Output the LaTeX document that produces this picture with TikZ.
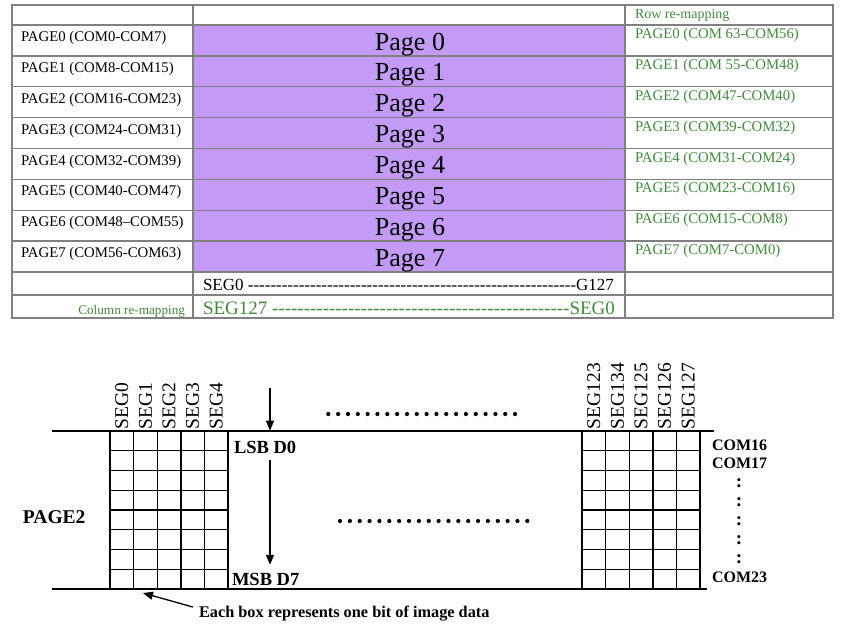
\documentclass[tikz,border=0pt]{standalone}
\usepackage{fontspec}
\setmainfont{Liberation Serif}
\usetikzlibrary{arrows.meta, positioning, calc}
\definecolor{pagefill}{RGB}{195,154,245}
\definecolor{mapgreen}{RGB}{62,140,58}
\definecolor{rulegray}{RGB}{128,128,128}
\newcommand\fsz[1]{\fontsize{#1}{#1}\selectfont}
\newcommand\hyph[1]{\foreach \k in {1,...,#1}{\mbox{-}}}
\tikzset{
    every node/.style={inner sep=0pt, outer sep=0pt},
    cell text/.style={anchor=base west, font=\fsz{14.8}},
    remap/.style={cell text, text=mapgreen},
    page text/.style={anchor=base, font=\fsz{26}},
    seg label/.style={rotate=90, anchor=west, font=\fsz{19.5}},
    bold label/.style={anchor=base west, font=\fsz{18.5}\bfseries},
    com label/.style={anchor=base west, font=\fsz{16}\bfseries},
    table line/.style={draw=rulegray, line width=1.4pt},
    grid line/.style={draw=black, line width=1.4pt}
}

\begin{document}
\begin{tikzpicture}[x=1pt, y=-1pt,
  >={Triangle[length=10pt, width=8pt]}]
  \useasboundingbox (0,0) rectangle (841,638);

  % page table
  \fill[pagefill] (193,25) rectangle (625,272);
  \foreach \y in {25,272,295}
    \draw[table line] (12,\y) -- (833,\y);
  \foreach \i in {1,...,7}
    \draw[table line] (12,25+30.875*\i) -- (833,25+30.875*\i);
  \foreach \x in {193,625}
    \draw[table line] (\x,5) -- (\x,318);
  \draw[table line] (12,5) rectangle (833,318);

  \node[remap] (rowmap) at (635,18.5) {\fsz{14}Row re-mapping};
  \foreach \i/\lt/\rt in {
      0/{PAGE0 (COM0-COM7)}/{PAGE0 (COM 63-COM56)},
      1/{PAGE1 (COM8-COM15)}/{PAGE1 (COM 55-COM48)},
      2/{PAGE2 (COM16-COM23)}/{PAGE2 (COM47-COM40)},
      3/{PAGE3 (COM24-COM31)}/{PAGE3 (COM39-COM32)},
      4/{PAGE4 (COM32-COM39)}/{PAGE4 (COM31-COM24)},
      5/{PAGE5 (COM40-COM47)}/{PAGE5 (COM23-COM16)},
      6/{PAGE6 (COM48–COM55)}/{PAGE6 (COM15-COM8)},
      7/{PAGE7 (COM56-COM63)}/{PAGE7 (COM7-COM0)}} {
    \node[cell text] (lp\i) at (21,25+30.875*\i+16.5) {\lt};
    \node[page text] (pg\i) at (410,25+30.875*\i+25) {Page \i};
    \node[remap] (rp\i) at (635,25+30.875*\i+13.5) {\rt};
  }
  \node[anchor=base west, font=\fsz{17}] (segfwd) at (203,290)
    {SEG0 \hyph{58}G127};
  \node[anchor=base west, font=\fsz{19}, text=mapgreen] (segrev) at (203,314)
    {SEG127 \hyph{47}SEG0};
  \node[anchor=base east, font=\fsz{13.2}, text=mapgreen] (colmap) at (185,314)
    {Column re-mapping};

  % one page of display memory
  \draw[grid line] (52,431) -- (714,431);
  \draw[grid line] (52,589) -- (707,589);
  \foreach \gx in {110,582} {
    \foreach \c in {0,...,5}
      \draw[grid line] (\gx+23.6*\c,431) -- (\gx+23.6*\c,589);
    \foreach \r in {1,...,7}
      \draw[grid line] (\gx,431+19.75*\r) -- (\gx+118,431+19.75*\r);
  }
  \foreach \c in {0,...,4}
    \node[seg label] (segL\c) at (121.8+23.6*\c,429) {SEG\c};
  \foreach \c/\t in {0/SEG123,1/SEG134,2/SEG125,3/SEG126,4/SEG127}
    \node[seg label] (segR\c) at (593.8+23.6*\c,429) {\t};

  \foreach \k in {0,...,19}
    \fill (328.3+9.83*\k,414) circle (2.1);
  \foreach \k in {0,...,19}
    \fill (340+9.86*\k,521) circle (2.1);

  \node[bold label] (lsb) at (234,453) {LSB D0};
  \node[bold label] (msb) at (232,585) {MSB D7};
  \node[bold label, font=\fsz{19.5}\bfseries] (pagelbl) at (23,523) {PAGE2};

  \coordinate (datain) at (270,388);
  \draw[->, line width=1.4pt, shorten >=10pt] (datain) -- (datain |- lsb.north);
  \draw[->, line width=1.4pt, shorten <=7pt, shorten >=8pt]
    (datain |- lsb.south) -- (datain |- msb.north);

  \node[com label] (com16) at (712,450) {COM16};
  \node[com label] (com17) at (712,468) {COM17};
  \node[com label] (com23) at (712,582) {COM23};
  \foreach \y [count=\n] in {483,502,521,540,559}
    \node[font=\fsz{19}\bfseries] (dots\n) at (739,\y) {:};

  \node[anchor=base west, font=\fsz{16.3}\bfseries] (note) at (199,617)
    {Each box represents one bit of image data};
  \coordinate (onebox) at (143,593);
  \draw[->, line width=1.3pt] ([yshift=6pt]note.west) ++(-6,0) -- (onebox);
\end{tikzpicture}
\end{document}
